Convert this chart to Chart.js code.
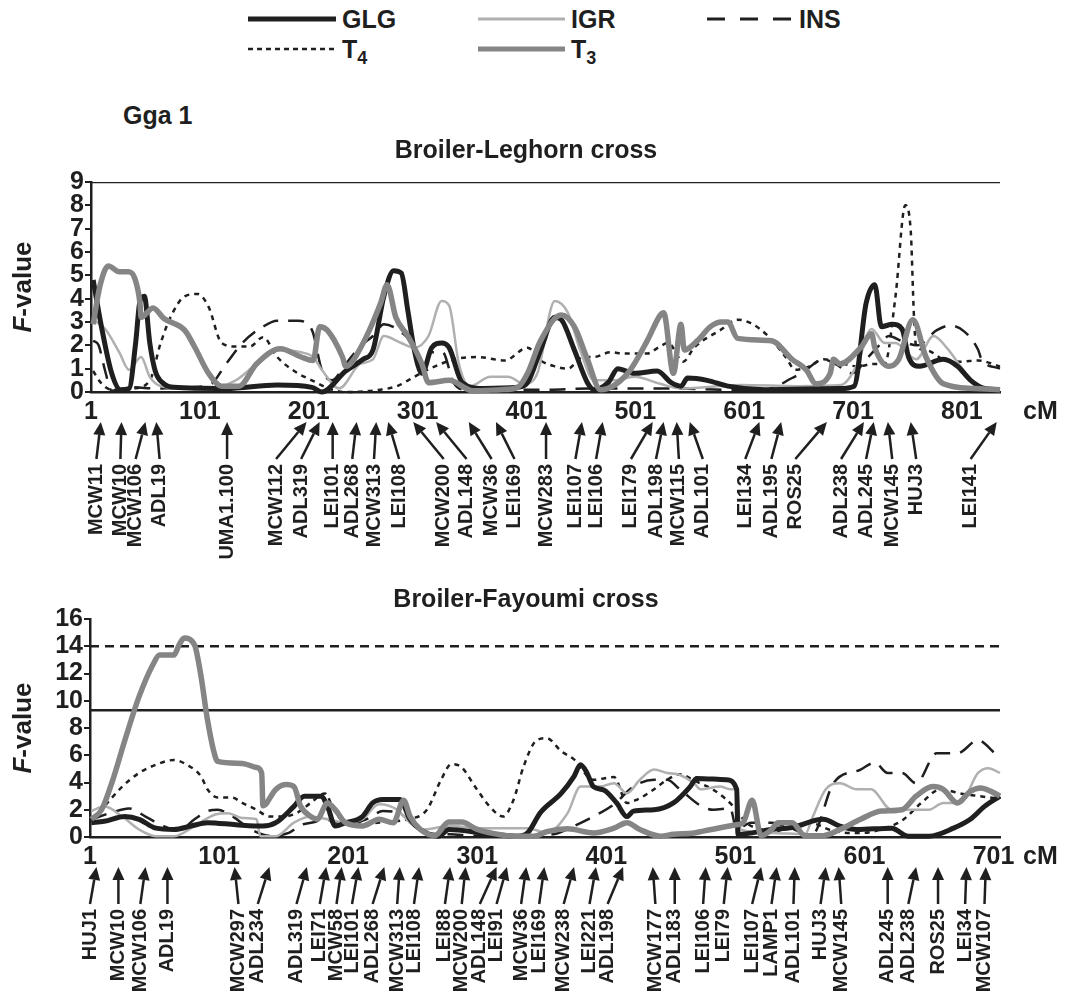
<!DOCTYPE html>
<html>
<head>
<meta charset="utf-8">
<script src="https://cdn.jsdelivr.net/npm/chart.js@4.4.1/dist/chart.umd.min.js"></script>
<style>
  body { margin: 0; background: #fff; }
  #page { position: relative; width: 1070px; height: 999px; background: #fff;
          font-family: "Liberation Sans", Arial, sans-serif; font-weight: bold; color: #1f1f1f; }
  .lg { position: absolute; font-size: 25px; line-height: 30px; white-space: nowrap; }
  .lg sub { font-size: 18px; line-height: 0; vertical-align: -6px; }
  canvas { position: absolute; left: 0; }
</style>
</head>
<body>
<div id="page">
  <svg width="1070" height="70" style="position:absolute;left:0;top:0">
    <line x1="248" y1="19" x2="336" y2="19" stroke="#1f1f1f" stroke-width="5"/>
    <line x1="478" y1="19" x2="565" y2="19" stroke="#b0b0b0" stroke-width="3"/>
    <line x1="707" y1="19" x2="792" y2="19" stroke="#1f1f1f" stroke-width="3" stroke-dasharray="18 15"/>
    <line x1="248" y1="49" x2="336" y2="49" stroke="#1f1f1f" stroke-width="2.5" stroke-dasharray="5 4"/>
    <line x1="478" y1="49" x2="565" y2="49" stroke="#858585" stroke-width="5"/>
  </svg>
  <div class="lg" style="left:342px;top:4px">GLG</div>
  <div class="lg" style="left:571px;top:4px">IGR</div>
  <div class="lg" style="left:799px;top:4px">INS</div>
  <div class="lg" style="left:342px;top:34px">T<sub>4</sub></div>
  <div class="lg" style="left:571px;top:34px">T<sub>3</sub></div>
  <div class="lg" style="left:123px;top:100px">Gga 1</div>

  <canvas id="chartTop" width="1070" height="445" style="top:130px"></canvas>
  <canvas id="chartBottom" width="1070" height="424" style="top:575px"></canvas>
</div>

<script>
// ---------- Broiler-Leghorn cross (top) ----------
var topTicks = [1, 101, 201, 301, 401, 501, 601, 701, 801];
var topThreshold = [9];

var topGlgCm = [3,11,20,28,36,42,46,50,55,60,68,77,125,172,204,213,235,251,260,270,279,286,292,298,305,314,323,330,342,361,393,402,414,427,433,445,457,463,476,485,500,521,534,543,549,567,586,620,689,702,713,721,727,737,746,752,762,784,797,809,822,836];
var topGlgF  = [4.8,2.7,0.8,0.1,0.15,2.1,3.9,4.1,2.1,0.9,0.35,0.2,0.15,0.3,0.2,0.0,0.9,1.4,1.8,4.1,5.2,5.1,3.5,1.8,0.8,1.9,2.1,1.9,0.4,0.15,0.2,0.4,1.8,3.2,3.1,1.8,0.4,0.1,0.4,1.0,0.8,0.9,0.4,0.25,0.6,0.5,0.25,0.1,0.15,0.25,3.8,4.6,2.8,2.9,2.7,1.5,1.1,1.4,1.1,0.5,0.15,0.1];

var topIgrCm = [3,14,27,36,47,55,65,84,109,134,153,172,194,205,213,229,248,260,270,286,298,311,323,330,339,349,368,384,399,411,427,439,451,463,482,500,524,543,598,650,690,705,718,730,740,759,775,787,803,816,836];
var topIgrF  = [3.1,2.7,1.7,0.95,1.5,0.65,0.25,0.15,0.15,0.5,1.2,1.8,1.7,1.5,0.95,0.15,1.2,1.4,2.4,2.1,1.9,2.4,3.9,3.7,1.2,0.25,0.65,0.65,0.35,0.8,3.9,3.4,1.7,0.5,0.5,0.65,0.35,0.15,0.3,0.25,0.3,1.2,2.7,2.1,2.1,1.4,2.4,1.9,0.9,0.25,0.15];

var topInsCm = [3,8,14,20,40,60,90,110,125,140,159,172,191,204,213,222,235,248,260,270,285,298,305,314,324,334,345,380,420,460,500,540,580,620,645,658,673,685,700,715,725,734,745,760,778,790,803,816,819,836];
var topInsF  = [2.2,2.0,0.9,0.05,0.2,0.15,0.2,0.3,1.2,2.1,2.8,3.05,3.05,2.65,0.95,0.5,1.2,1.95,2.4,2.9,2.6,1.9,0.9,1.7,1.7,0.4,0.1,0.1,0.1,0.15,0.15,0.15,0.1,0.1,0.6,0.95,1.4,1.2,0.8,1.5,2.0,2.4,2.2,2.0,2.65,2.85,2.6,1.8,1.4,1.0];

var topT4Cm = [3,10,20,40,55,65,74,87,99,109,121,134,147,159,172,191,204,222,235,267,282,298,310,335,356,381,402,414,427,439,453,463,478,491,500,512,522,531,545,555,579,595,607,623,639,648,661,674,689,705,720,730,740,749,754,757,759,768,784,800,816,836];
var topT4F  = [0.9,0.4,0.1,0.15,0.5,2.1,3.2,4.1,4.2,3.65,2.1,1.95,1.95,2.35,1.5,0.8,0.5,0.1,0.0,0.1,0.25,0.65,0.95,1.4,1.5,1.35,1.9,1.35,1.1,1.0,1.5,1.5,1.7,1.65,1.65,1.65,1.9,2.1,1.3,1.9,2.65,3.1,2.95,2.4,1.5,0.95,1.1,1.4,1.25,1.1,1.2,1.2,4.1,8.0,6.9,3.2,1.95,1.8,1.4,1.3,1.35,1.1];

var topT3Cm = [3,9,17,27,35,41,46,47,58,68,87,96,109,121,137,153,175,194,205,211,218,232,235,251,267,273,281,292,305,311,330,352,377,393,402,414,433,445,457,469,494,512,524,527,536,543,546,558,570,580,586,595,626,645,658,667,680,683,689,708,718,721,734,743,756,768,784,812,836];
var topT3F  = [2.9,4.5,5.4,5.15,5.15,4.9,3.8,3.2,3.6,3.15,2.65,1.95,0.8,0.25,0.25,1.2,1.85,1.5,1.35,2.8,2.65,1.5,1.1,2.1,3.8,4.6,3.2,2.4,1.2,0.4,0.5,0.05,0.1,0.2,0.8,2.2,3.3,2.8,1.4,0.1,0.8,2.2,3.3,3.4,0.8,2.9,1.8,2.2,2.8,3.0,3.0,2.3,2.2,1.4,0.95,0.35,0.8,1.4,1.2,1.9,2.5,1.9,1.1,1.4,3.1,1.5,0.35,0.15,0.1];

var topMarkers  = ['MCW11','MCW10','MCW106','ADL19','UMA1.100','MCW112','ADL319','LEI101','ADL268','MCW313','LEI108','MCW200','ADL148','MCW36','LEI169','MCW283','LEI107','LEI106','LEI179','ADL198','MCW115','ADL101','LEI134','ADL195','ROS25','ADL238','ADL245','MCW145','HUJ3','LEI141'];
var topMarkerCm = [10,29,51,61,126,199,211,223,245,263,274,297,318,348,373,419,452,471,517,527,539,551,615,635,677,711,720,733,754,833];
var topLabelCm  = [6,28,42,64,126,171,194,223,241,261,284,325,346,369,390,419,446,465,497,520,541,563,602,626,648,690,713,737,759,809];

// ---------- Broiler-Fayoumi cross (bottom) ----------
var bottomTicks = [1, 101, 201, 301, 401, 501, 601, 701];
var bottomSolid = [9.3];
var bottomDashed = [14];

var botGlgCm = [2,12,28,39,52,66,79,92,114,135,145,159,167,180,185,191,199,212,220,228,241,249,257,271,279,305,332,340,350,366,376,381,386,391,399,409,417,422,438,453,466,471,494,502,503,529,545,569,582,595,622,635,651,670,683,694,706];
var botGlgF  = [1.05,1.15,1.5,1.3,0.65,0.55,0.8,1.05,0.9,0.8,1.05,2.25,3.0,3.0,2.25,0.8,1.05,1.5,2.5,2.75,2.75,1.3,0.55,0.06,0.55,0.3,0.06,0.3,1.8,3.2,4.45,5.3,4.7,3.7,3.45,2.5,1.5,1.9,2.0,2.5,3.7,4.3,4.2,3.5,0.2,0.55,0.7,1.3,0.8,0.55,0.65,0.06,0.06,0.65,1.3,2.25,3.0];

var botIgrCm = [2,12,26,39,52,66,82,98,108,119,130,133,145,159,172,185,199,212,225,239,249,260,279,305,332,340,355,371,381,396,407,417,427,438,448,458,469,474,489,497,502,505,529,555,561,571,582,595,606,622,635,651,662,675,689,697,706];
var botIgrF  = [1.9,2.25,1.5,0.55,0.06,0.06,0.8,1.65,1.75,1.4,1.3,0.06,0.06,1.05,1.5,1.3,1.05,1.3,2.4,2.0,1.05,0.55,0.8,0.65,0.65,0.65,0.3,1.75,3.7,3.7,3.95,3.2,4.2,4.95,4.7,4.55,3.95,3.5,3.7,3.5,3.5,0.55,0.3,0.2,1.5,3.5,3.95,3.5,3.5,2.0,2.0,2.0,2.5,2.5,4.7,5.05,4.7];

var botInsCm = [2,18,31,44,58,70,82,92,100,110,125,140,155,165,175,182,188,200,215,228,240,250,262,280,300,330,360,376,391,407,422,438,448,458,474,484,497,502,513,529,545,560,577,598,609,619,630,641,657,673,689,702];
var botInsF  = [1.3,1.8,2.1,1.5,0.8,0.5,1.3,1.9,2.0,1.6,0.6,0.1,0.3,0.9,1.1,1.3,1.2,0.9,1.3,1.9,1.8,1.0,0.3,0.2,0.1,0.1,0.2,0.8,1.5,2.4,3.7,4.2,4.2,3.5,2.3,2.0,2.1,0.55,1.05,1.05,0.6,0.1,3.95,4.95,5.45,4.7,4.7,3.95,6.15,6.15,7.1,6.15];

var botT4Cm = [2,12,26,39,52,66,76,87,92,100,111,119,130,140,151,161,172,183,190,199,215,230,247,262,273,281,289,300,311,321,329,337,347,355,366,376,391,407,417,425,438,448,458,470,485,500,510,520,530,545,560,575,590,600,615,630,645,660,675,690,706];
var botT4F  = [1.3,2.25,3.7,4.7,5.3,5.65,5.3,4.45,3.5,2.9,2.9,2.5,2.0,1.5,1.5,1.75,2.5,3.2,2.0,1.05,1.0,1.1,1.3,2.0,4.2,5.35,5.1,3.6,2.2,1.5,2.7,5.2,7.1,7.25,6.3,5.7,4.2,4.4,2.5,2.75,3.5,4.2,4.6,4.1,3.4,2.2,1.0,0.6,0.4,0.8,1.0,0.5,0.3,0.3,0.6,1.2,2.5,3.5,3.2,3.0,2.8];

var botT3Cm = [2,10,18,28,39,50,55,66,70,74,82,87,92,98,100,119,130,134,135,145,153,159,164,172,177,185,191,199,212,225,236,244,249,257,268,279,289,300,314,329,345,355,371,391,407,417,427,443,453,469,476,502,507,514,521,529,534,545,555,569,582,598,614,630,641,654,662,673,683,691,699,706];
var botT3F  = [1.3,2.0,4.0,7.1,10.3,12.7,13.35,13.35,14.1,14.6,14.1,11.8,8.6,5.9,5.55,5.4,5.1,4.7,2.3,3.5,3.85,3.7,2.3,1.5,1.3,2.5,2.0,1.05,0.8,1.3,1.05,2.7,1.5,0.55,0.1,1.1,1.1,0.6,0.25,0.06,0.06,0.4,0.6,0.3,0.65,1.05,0.55,0.06,0.2,0.3,0.43,0.9,1.05,2.7,0.1,0.55,1.05,1.05,0.1,0.1,0.55,1.3,1.9,2.0,3.0,3.7,3.5,2.5,3.35,3.6,3.35,3.0];

var botMarkers  = ['HUJ1','MCW10','MCW106','ADL19','MCW297','ADL234','ADL319','LEI71','MCW58','LEI101','ADL268','MCW313','LEI108','LEI88','MCW200','ADL148','LEI91','MCW36','LEI169','MCW238','LEI221','ADL198','MCW177','ADL183','LEI106','LEI79','LEI107','LAMP1','ADL101','HUJ3','MCW145','ADL245','ADL238','ROS25','LEI34','MCW107'];
var botMarkerCm = [6,23,44,61,113,140,169,184,196,209,229,241,256,280,292,316,324,339,353,376,393,414,437,454,478,495,521,533,547,571,581,619,641,658,680,695];
var botLabelCm  = [1,23,40,61,116,131,161,179,192,204,220,239,252,276,289,303,316,335,349,368,388,402,439,454,476,492,514,529,546,567,583,619,635,658,679,694];

// ---------- styling ----------
var ink = '#1f1f1f';
var fontFamily = '"Liberation Sans", Arial, sans-serif';

function pts(cm, f) {
  return cm.map(function (c, i) { return { x: c, y: f[i] }; });
}

function series(cm, f, color, width, dash, order) {
  return {
    data: pts(cm, f),
    borderColor: color,
    borderWidth: width,
    borderDash: dash,
    pointRadius: 0,
    cubicInterpolationMode: 'monotone',
    fill: false,
    order: order,
    clip: false
  };
}

function hline(v, xmin, xmax, dash) {
  return {
    data: [{ x: xmin, y: v }, { x: xmax, y: v }],
    borderColor: ink, borderWidth: 2.5, borderDash: dash,
    pointRadius: 0, tension: 0, order: 10
  };
}

// titles, axis titles, unit and marker arrows
var figurePlugin = {
  id: 'figure',
  afterDraw: function (chart, args, opts) {
    var ctx = chart.ctx, area = chart.chartArea, xs = chart.scales.x;
    ctx.save();
    ctx.fillStyle = ink;
    ctx.strokeStyle = ink;

    ctx.font = 'bold 25px ' + fontFamily;
    ctx.textAlign = 'center';
    ctx.textBaseline = 'middle';
    ctx.fillText(opts.title, 526, opts.titleY);

    ctx.textAlign = 'left';
    ctx.fillText('cM', 1023, area.bottom + 20);

    // F-value, italic F
    ctx.save();
    ctx.translate(24, (area.top + area.bottom) / 2);
    ctx.rotate(-Math.PI / 2);
    ctx.font = 'bold 26px ' + fontFamily;
    var rest = ctx.measureText('-value').width;
    ctx.font = 'italic bold 26px ' + fontFamily;
    var fw = ctx.measureText('F').width;
    var start = -(fw + rest) / 2;
    ctx.textAlign = 'left';
    ctx.fillText('F', start, 0);
    ctx.font = 'bold 26px ' + fontFamily;
    ctx.fillText('-value', start + fw, 0);
    ctx.restore();

    // markers
    ctx.font = 'bold 20px ' + fontFamily;
    ctx.lineWidth = 2.5;
    opts.names.forEach(function (name, i) {
      var tx = xs.getPixelForValue(opts.tips[i]);
      var lx = xs.getPixelForValue(opts.labels[i]);
      var ty = area.bottom + 30, ly = area.bottom + 67;
      var ang = Math.atan2(ty - ly, tx - lx);
      var head = 13, hw = 6;
      var bx = tx - head * Math.cos(ang), by = ty - head * Math.sin(ang);
      ctx.beginPath();
      ctx.moveTo(lx, ly);
      ctx.lineTo(bx, by);
      ctx.stroke();
      ctx.beginPath();
      ctx.moveTo(tx, ty);
      ctx.lineTo(bx + hw * Math.sin(ang), by - hw * Math.cos(ang));
      ctx.lineTo(bx - hw * Math.sin(ang), by + hw * Math.cos(ang));
      ctx.closePath();
      ctx.fill();

      ctx.save();
      ctx.translate(lx, area.bottom + 72);
      ctx.rotate(-Math.PI / 2);
      ctx.textAlign = 'right';
      ctx.textBaseline = 'middle';
      ctx.fillText(name, 0, 0);
      ctx.restore();
    });
    ctx.restore();
  }
};

function makeChart(id, cfg) {
  return new Chart(document.getElementById(id), {
    type: 'line',
    data: { datasets: cfg.datasets },
    options: {
      responsive: false,
      animation: false,
      events: [],
      layout: { padding: { left: 0, right: 70, top: cfg.padTop, bottom: cfg.padBottom } },
      plugins: {
        legend: { display: false },
        tooltip: { enabled: false },
        figure: cfg.figure
      },
      scales: {
        x: {
          type: 'linear',
          min: cfg.xmin, max: cfg.xmax,
          afterBuildTicks: function (s) { s.ticks = cfg.ticks.map(function (v) { return { value: v }; }); },
          afterFit: function (s) { s.height = 40; },
          grid: { display: false, drawTicks: false },
          border: { display: true, color: ink, width: 2.5 },
          ticks: { color: ink, font: { family: fontFamily, size: 25, weight: 'bold' }, padding: 5, maxRotation: 0, autoSkip: false }
        },
        y: {
          min: 0, max: cfg.ymax,
          afterFit: function (s) { s.width = cfg.yWidth; },
          grid: { drawOnChartArea: false, drawTicks: true, tickLength: 6, color: ink, lineWidth: 2 },
          border: { display: true, color: ink, width: 2.5 },
          ticks: { stepSize: cfg.ystep, autoSkip: false, color: ink, font: { family: fontFamily, size: 25, weight: 'bold' }, padding: 1 }
        }
      }
    },
    plugins: [figurePlugin]
  });
}

makeChart('chartTop', {
  xmin: 1, xmax: 836, ymax: 9, ystep: 1, ticks: topTicks,
  padTop: 52, padBottom: 143, yWidth: 91,
  datasets: [
    series(topT3Cm, topT3F, '#858585', 5.5, [], 1),
    series(topGlgCm, topGlgF, ink, 5, [], 2),
    series(topIgrCm, topIgrF, '#b0b0b0', 2.5, [], 3),
    series(topInsCm, topInsF, ink, 2.5, [16, 10], 4),
    series(topT4Cm, topT4F, ink, 2.5, [5, 5], 5),
    hline(topThreshold[0], 1, 836, [])
  ],
  figure: { title: 'Broiler-Leghorn cross', titleY: 21, names: topMarkers, tips: topMarkerCm, labels: topLabelCm }
});

makeChart('chartBottom', {
  xmin: 1, xmax: 706, ymax: 16, ystep: 2, ticks: bottomTicks,
  padTop: 44, padBottom: 122, yWidth: 90,
  datasets: [
    series(botT3Cm, botT3F, '#858585', 5.5, [], 1),
    series(botGlgCm, botGlgF, ink, 5, [], 2),
    series(botIgrCm, botIgrF, '#b0b0b0', 2.5, [], 3),
    series(botInsCm, botInsF, ink, 2.5, [16, 10], 4),
    series(botT4Cm, botT4F, ink, 2.5, [5, 5], 5),
    hline(bottomSolid[0], 1, 706, []),
    hline(bottomDashed[0], 1, 706, [9, 6])
  ],
  figure: { title: 'Broiler-Fayoumi cross', titleY: 25, names: botMarkers, tips: botMarkerCm, labels: botLabelCm }
});
</script>
</body>
</html>
